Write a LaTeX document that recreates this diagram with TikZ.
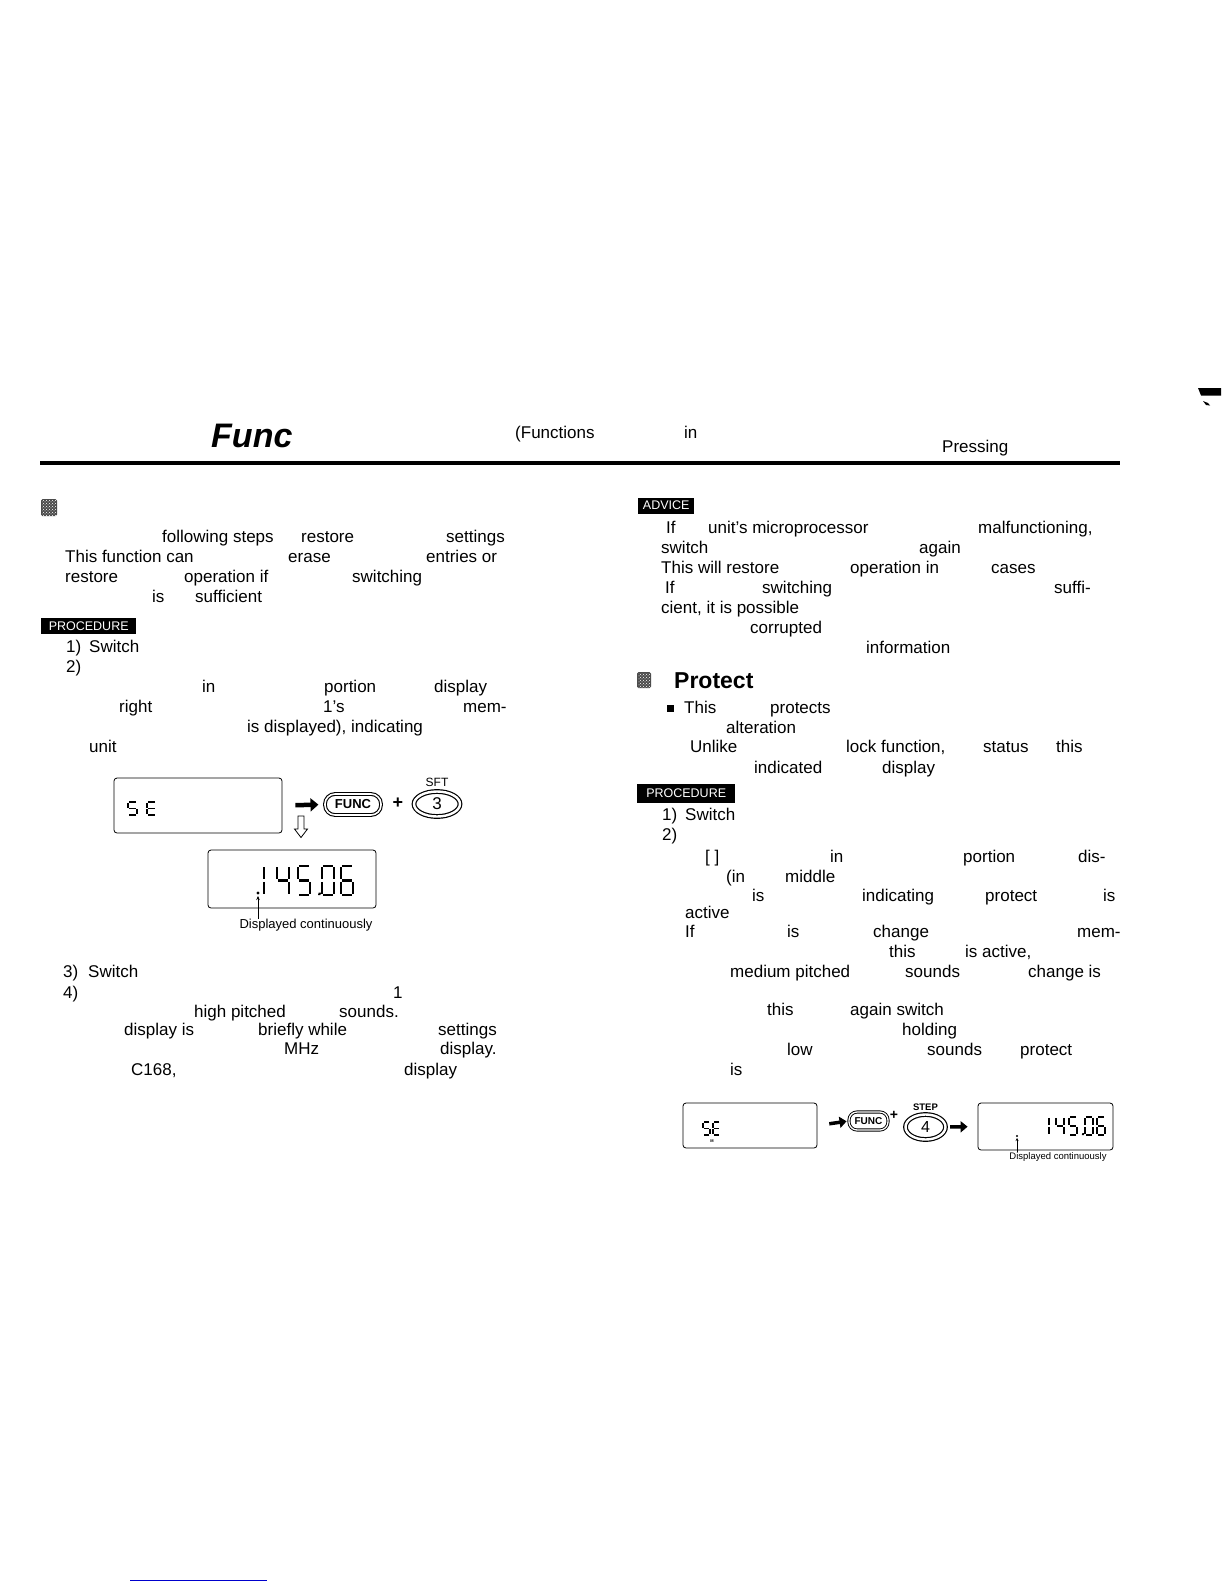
\documentclass[tikz,border=0pt]{standalone}
\usepackage{fontspec}
\setmainfont{Liberation Sans}
\usetikzlibrary{arrows.meta,positioning,shapes.geometric,patterns}

% seven segment digits, cell 10 x 20, y up
\tikzset{
  dig1/.pic={\draw[seg] (10,19) -- (10,11) (10,9) -- (10,1);},
  dig4/.pic={\draw[seg] (0,19) -- (0,11) (1,10) -- (9,10) (10,19) -- (10,11) (10,9) -- (10,1);},
  dig5/.pic={\draw[seg] (9,20) -- (1,20) (0,19) -- (0,11) (1,10) -- (9,10) (10,9) -- (10,1) (9,0) -- (1,0);},
  dig0/.pic={\draw[seg] (1,20) -- (9,20) (10,19) -- (10,11) (10,9) -- (10,1) (9,0) -- (1,0) (0,1) -- (0,9) (0,11) -- (0,19);},
  dig6/.pic={\draw[seg] (9,20) -- (1,20) (0,19) -- (0,11) (0,9) -- (0,1) (1,0) -- (9,0) (10,1) -- (10,9) (1,10) -- (9,10);},
  digE/.pic={\draw[seg] (9,20) -- (1,20) (0,19) -- (0,11) (1,10) -- (9,10) (0,9) -- (0,1) (1,0) -- (9,0);}
}

\begin{document}
\begin{tikzpicture}[x=1pt,y=-1pt,
    txt/.style={anchor=base west,inner sep=0pt,font=\fontsize{17}{20}\selectfont},
    tag/.style={fill=black,text=white,anchor=west,inner sep=0pt,minimum height=16pt,font=\fontsize{12.5}{13}\selectfont},
    lcd/.style={draw,line width=0.8pt,rounded corners=3pt},
    funckey/.style={draw,double,rounded corners=10pt,line width=1.1pt,double distance=1.6pt,inner sep=0pt,font=\bfseries\fontsize{13}{13}\selectfont},
    numkey/.style={ellipse,draw,double,line width=1.2pt,double distance=2.4pt,inner sep=0pt},
    keylabel/.style={inner sep=0pt,font=\fontsize{12}{12}\selectfont},
    fatarrow/.style={line width=4.5pt,-{Triangle[length=8pt,width=13pt]}},
    seg/.style={line width=2.2pt},
    note/.style={inner sep=0pt,font=\fontsize{13}{13}\selectfont}]

    % page
    \fill[white] (0,0) rectangle (1225,1585);
    \useasboundingbox (0,0) rectangle (1225,1585);

    % header
    \node[txt,font=\bfseries\itshape\fontsize{34}{34}\selectfont] (title) at (211,447) {Func};
    \node[txt] (hdfunc) at (515,438) {(Functions};
    \node[txt] (hdin) at (684,438) {in};
    \node[txt] (hdpress) at (942,452) {Pressing};
    \draw[line width=4.5pt] (40,463) -- (1120,463);
    \fill (1198,388) -- (1221,388) -- (1221,395.5) -- (1201,395.5) -- cycle;
    \fill (1203,401) -- (1208,403) -- (1210,405.5) -- (1206,405) -- cycle;

    % left column
    \fill[black!70,rounded corners=1.5pt] (41,499) rectangle (57,516);
    \fill[pattern=crosshatch dots,pattern color=white] (42,500) rectangle (56,515);
    \foreach \x/\y/\t [count=\i] in {162/542/{following steps},301/542/restore,446/542/settings,
        65/562/{This function can},288/562/erase,426/562/{entries or},
        65/582/restore,184/582/{operation if},352/582/switching,
        152/602/is,195/602/sufficient,
        66/652/{1)},89/652/Switch,66/672/{2)},
        202/692/in,324/692/portion,434/692/display,
        119/712/right,323/712/{1's},463/712/mem-,
        247/732/{is displayed), indicating},89/752/unit,
        63/977/{3)},88/977/Switch,63/998/{4)},393/998/1,
        194/1017/{high pitched},339/1017/sounds.,
        124/1035/{display is},258/1035/{briefly while},438/1035/settings,
        284/1054/MHz,440/1054/display.,
        131/1075/{C168,},404/1075/display}
        \node[txt] (left\i) at (\x,\y) {\t};
    \node[tag,minimum width=95pt] (proc1) at (41,626) {PROCEDURE};

    % reset display
    \node[lcd,minimum width=168pt,minimum height=55pt] (lcd1) at (198,805.5) {};
    \begin{scope}[shift={(128,815)},x=0.9pt,y=0.65pt,xslant=0.15,seg/.style={line width=1.8pt}]
        \pic at (0,0) {dig5};
        \pic at (21,0) {digE};
    \end{scope}
    \node[funckey,minimum width=56pt,minimum height=21pt] (func1) at (353,804.5) {FUNC};
    \node[inner sep=0pt,font=\bfseries\fontsize{18}{18}\selectfont] (plus1) at (398,803) {+};
    \node[numkey,minimum width=46pt,minimum height=25pt,font=\fontsize{17}{17}\selectfont] (key3) at (437,804) {3};
    \node[keylabel,above=4pt of key3] (sft) {SFT};
    \draw[fatarrow,shorten <=13pt,shorten >=6pt] (lcd1.east) -- (func1.west);
    \draw[line width=0.8pt] (298,816) -- (304,816) -- (304,829) -- (307.5,829) -- (301,837.5) -- (294.5,829) -- (298,829) -- cycle;

    \node[lcd,minimum width=168pt,minimum height=58pt] (lcd2) at (292,879) {};
    \begin{scope}[shift={(252,895)},x=1.2pt,y=1.45pt,xslant=0.3]
        \pic at (0,0) {dig1};
        \pic at (20.8,0) {dig4};
        \pic at (38.3,0) {dig5};
        \fill (55,0) rectangle (57,1.6);
        \pic at (58.3,0) {dig0};
        \pic at (74.2,0) {dig6};
    \end{scope}
    \coordinate (dot1) at (258,893);
    \fill (dot1) circle (1.6pt);
    \node[note] (cont1) at (306,925) {Displayed continuously};
    \draw[line width=0.6pt,-{Stealth[length=4pt,width=3.5pt]},shorten >=3pt] (cont1.north -| dot1) -- (dot1);

    % right column
    \node[tag,minimum width=56pt] (advice) at (638,505.5) {ADVICE};
    \foreach \x/\y/\t [count=\i] in {666/533/If,708/533/{unit's microprocessor},978/533/{malfunctioning,},
        661/553/switch,919/553/again,
        661/573/{This will restore},850/573/{operation in},991/573/cases,
        665/593/If,762/593/switching,1054/593/suffi-,
        661/613/{cient, it is possible},750/633/corrupted,866/653/information,
        684/713/This,770/713/protects,726/733/alteration,
        690/752/Unlike,846/752/{lock function,},983/752/status,1056/752/this,
        754/773/indicated,882/773/display,
        662/820/{1)},685/820/Switch,662/840/{2)},
        705/862/{[ ]},830/862/in,963/862/portion,1078/862/dis-,
        726/882/{(in},785/882/middle,
        752/901/is,862/901/indicating,985/901/protect,1103/901/is,
        685/918/active,
        685/937/If,787/937/is,873/937/change,1077/937/mem-,
        889/957/this,965/957/{is active,},
        730/977/{medium pitched},905/977/sounds,1028/977/{change is},
        767/1015/this,850/1015/{again switch},902/1035/holding,
        787/1055/low,927/1055/sounds,1020/1055/protect,
        730/1075/is}
        \node[txt] (right\i) at (\x,\y) {\t};
    \fill[black!70,rounded corners=1.5pt] (637,672) rectangle (651,688);
    \fill[pattern=crosshatch dots,pattern color=white] (638,673) rectangle (650,687);
    \node[txt,font=\bfseries\fontsize{23}{23}\selectfont] (protect) at (674,688) {Protect};
    \fill (667,705) rectangle (674,712);
    \node[tag,minimum width=98pt,minimum height=19pt] (proc2) at (637,793.5) {PROCEDURE};

    % protect display
    \node[lcd,minimum width=134pt,minimum height=45pt] (lcd3) at (750,1125.5) {};
    \begin{scope}[shift={(703,1135)},x=0.7pt,y=0.65pt,xslant=0.15,seg/.style={line width=1.4pt}]
        \pic at (0,0) {dig5};
        \pic at (14.3,0) {digE};
    \end{scope}
    \node[inner sep=0pt,font=\bfseries\fontsize{4}{4}\selectfont] (mark) at (712,1141) {M};
    \node[funckey,minimum width=39pt,minimum height=18pt,rounded corners=8pt,line width=0.9pt,double distance=1.3pt,font=\bfseries\fontsize{10}{10}\selectfont] (func2) at (868.5,1121) {FUNC};
    \node[inner sep=0pt,font=\bfseries\fontsize{14}{14}\selectfont] (plus2) at (894,1115) {+};
    \node[numkey,minimum width=40pt,minimum height=25pt,font=\fontsize{16}{16}\selectfont] (key4) at (925.5,1127) {4};
    \node[keylabel,font=\bfseries\fontsize{9.5}{9.5}\selectfont,above=3pt of key4] (stepkey) {STEP};
    \node[lcd,minimum width=135pt,minimum height=47pt] (lcd4) at (1045.5,1126.5) {};
    \begin{scope}[shift={(1041,1135)},x=0.8pt,y=0.9pt,xslant=0.3,seg/.style={line width=1.5pt}]
        \pic at (0,0) {dig1};
        \pic at (18.8,0) {dig4};
        \pic at (35,0) {dig5};
        \fill (51,0) rectangle (53.5,2);
        \pic at (55,0) {dig0};
        \pic at (70,0) {dig6};
    \end{scope}
    \draw[fatarrow,line width=3.5pt,-{Triangle[length=7pt,width=11pt]},shorten <=12pt,shorten >=2pt] (lcd3.east) -- (func2.west);
    \draw[fatarrow,line width=3.5pt,-{Triangle[length=7pt,width=11pt]},shorten <=4pt,shorten >=10pt] (key4.east) -- (lcd4.west);
    \coordinate (dot2) at (1017,1136);
    \fill (dot2) circle (1.2pt);
    \node[note,font=\fontsize{9.5}{9.5}\selectfont] (cont2) at (1058,1157) {Displayed continuously};
    \draw[line width=0.5pt,-{Stealth[length=3pt,width=3pt]},shorten >=2pt] (cont2.north -| dot2) -- (dot2);

    % page foot
    \draw[blue!80!black,line width=0.8pt] (130,1580.5) -- (267,1580.5);
\end{tikzpicture}
\end{document}
